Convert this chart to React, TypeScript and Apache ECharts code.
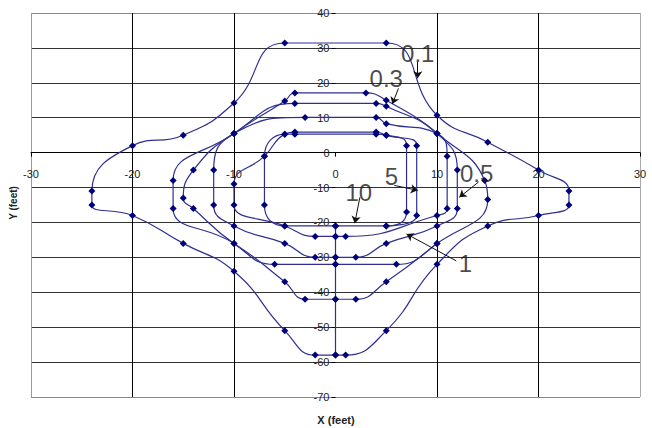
import React, { useEffect, useRef } from "react";
import * as echarts from "echarts";

// Contour paths [x (feet), y (feet)]
const contour10 = [[0,-21],[-5,-21],[-7,-15],[-7,-1],[-5,5.3],[-4,5.3],[4,5.3],[5,5],[7,2],[7,-17],[5,-21],[0,-21]];
const contour5 = [[0,-24],[-2,-24],[-5,-21],[-10,-15],[-10,-9],[-7,-1],[-5,5.3],[-4,5.9],[4,5.9],[5,5],[8,2],[8,-18],[5,-21]];
const contour1 = [[0,-24],[1,-24],[10,-18],[11,-16],[11,-1],[10,5.5],[5,8.3],[4,10.1],[-3,10.1],[-10,5.5],[-12,-5],[-12,-15],[-10,-21],[-5,-26],[-2,-30],[0,-30]];
const contour05 = [[0,-30],[2,-30],[5,-26],[10,-21],[12,-16],[12,-5],[10,5.5],[5,13.3],[4,14.1],[-4,14.1],[-10,5.5],[-14,-5],[-15,-13],[-14,-16],[-10,-26],[-6,-32],[0,-32]];
const contour03 = [[0,-32],[6,-32],[10,-26],[15,-13.4],[14.7,-8],[10,5.5],[5,15],[3,17.1],[-4,17.1],[-5,14.8],[-10,5.5],[-16,-8],[-16,-16],[-10,-26],[-5,-37],[-3,-42],[0,-42]];
const contour03b = [[0,-42],[2,-42],[5,-37],[10,-26]];
const contour01 = [[0,-58],[-2,-58],[-5,-51],[-10,-34],[-15,-26],[-20,-18],[-24,-15],[-24,-11],[-20,2],[-15,5],[-10,14.2],[-5,31.4],[5,31.4],[10,10.7],[15,3],[20,-5],[23,-11],[23,-15],[20,-18],[15,-21],[10,-32],[5,-51],[1,-58],[0,-58]];
const bottomConnector = [[0,-21],[0,-24],[0,-30],[0,-32],[0,-42],[0,-58]];

// Annotations
const labelNames = ["0.1", "0.3", "0.5", "1", "5", "10"];
const labelPos = [[8.1,28.5],[5.0,21.1],[13.9,-6.0],[12.8,-31.8],[5.5,-6.8],[2.3,-11.4]];
const arrowFrom = [[8.1,26],[6.2,18.4],[14.1,-8.4],[11.9,-31],[5.8,-9.4],[2.4,-12.8]];
const arrowTo = [[8.1,21.3],[5.6,13.9],[12.2,-12.8],[7,-23.3],[8.1,-10.8],[1.9,-20.2]];

const X_MIN = -30, X_MAX = 30, Y_MIN = -70, Y_MAX = 40;

const W = 652, H = 428;
const GRID = { left: 31, right: 12, top: 13, bottom: 31 };
const PLOT_W = W - GRID.left - GRID.right;
const PLOT_H = H - GRID.top - GRID.bottom;

const LINE_COLOR = "#2f2f92";
const MARK_COLOR = "#00007c";
const FONT = "'Liberation Sans Narrow', 'Liberation Sans', Arial, sans-serif";

function contourSeries(name: string, data: number[][], showSymbol = true) {
  return {
    name,
    type: "line",
    data,
    smooth: 0.5,
    showSymbol,
    symbol: "diamond",
    symbolSize: 7,
    itemStyle: { color: MARK_COLOR },
    lineStyle: { color: LINE_COLOR, width: 1.2 },
    z: 3,
  };
}

export default function App() {
  const ref = useRef<HTMLDivElement>(null);
  useEffect(() => {
    if (!ref.current) return;
    const chart = echarts.init(ref.current, undefined, { renderer: "svg" });
    const xSplitColors = ["#999", "#000", "#000", "rgba(0,0,0,0)", "#000", "#000", "#aaa"];
    const ySplitColors = ["#888", "#333", "#333", "#333", "#333", "#333", "#333", "#333", "#333", "#333", "#333", "#888"];
    // move axes inward so they cross at the origin
    const xOffset = -PLOT_H * (0 - Y_MIN) / (Y_MAX - Y_MIN);
    const yOffset = -PLOT_W * (0 - X_MIN) / (X_MAX - X_MIN);
    chart.setOption({
      animation: false,
      grid: { ...GRID, containLabel: false },
      xAxis: {
        type: "value",
        min: X_MIN,
        max: X_MAX,
        interval: 10,
        position: "bottom",
        offset: xOffset,
        axisLine: { show: true, onZero: false, lineStyle: { color: "#000", width: 1 } },
        axisTick: { show: true, length: 4, lineStyle: { color: "#000" } },
        axisLabel: { margin: 16, fontSize: 11, color: "#222", fontFamily: FONT },
        splitLine: { show: true, lineStyle: { color: xSplitColors, width: 1 } },
      },
      yAxis: {
        type: "value",
        min: Y_MIN,
        max: Y_MAX,
        interval: 10,
        position: "left",
        offset: yOffset,
        axisLine: { show: false, onZero: false },
        axisTick: { show: true, length: 4, lineStyle: { color: "#000" } },
        axisLabel: { margin: 6, fontSize: 11, color: "#222", fontFamily: FONT },
        splitLine: { show: true, lineStyle: { color: ySplitColors, width: 1 } },
      },
      graphic: [
        {
          type: "text",
          x: 13,
          y: 203,
          rotation: Math.PI / 2,
          style: { text: "Y (feet)", font: "bold 10px 'Liberation Sans', Arial, sans-serif", fill: "#222", align: "center", verticalAlign: "middle" },
        },
        {
          type: "text",
          x: 336,
          y: 420,
          style: { text: "X (feet)", font: "bold 11px 'Liberation Sans', Arial, sans-serif", fill: "#222", align: "center", verticalAlign: "middle" },
        },
      ],
      series: [
        contourSeries("10", contour10),
        contourSeries("5", contour5),
        contourSeries("1", contour1),
        contourSeries("0.5", contour05),
        contourSeries("0.3", contour03),
        contourSeries("0.3b", contour03b),
        contourSeries("0.1", contour01),
        { ...contourSeries("connector", bottomConnector, false), smooth: false },
        {
          type: "lines",
          coordinateSystem: "cartesian2d",
          symbol: ["none", "arrow"],
          symbolSize: 7,
          lineStyle: { color: "#111", width: 1, opacity: 1 },
          data: arrowFrom.map((f, i) => ({ coords: [f, arrowTo[i]] })),
          z: 4,
        },
        {
          type: "scatter",
          symbolSize: 1,
          itemStyle: { color: "rgba(0,0,0,0)" },
          label: { show: true, position: "inside", formatter: "{b}", fontSize: 24, fontFamily: FONT, color: "#1a1a1a" },
          data: labelNames.map((n, i) => ({ name: n, value: labelPos[i] })),
          z: 5,
        },
      ],
    });
    return () => chart.dispose();
  }, []);
  return <div ref={ref} style={{ position: "fixed", left: 0, top: 0, width: W, height: H, background: "#fff" }} />;
}
